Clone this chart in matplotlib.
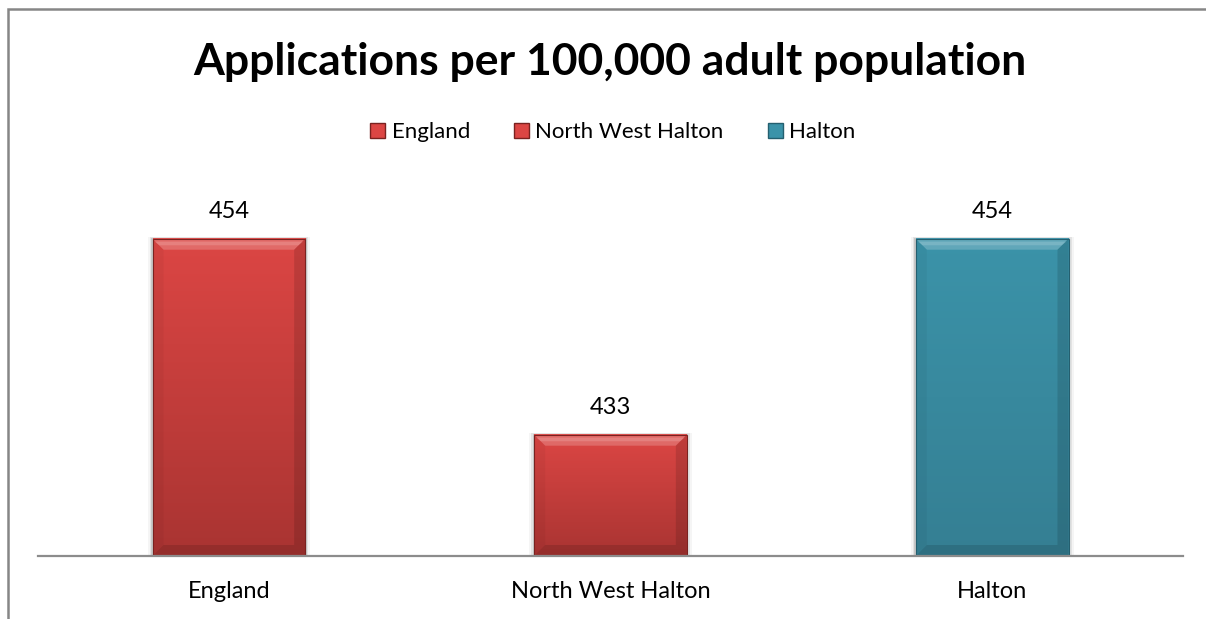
import numpy as np
import matplotlib
matplotlib.use("Agg")
import matplotlib.pyplot as plt
from matplotlib.patches import Patch, Polygon, Rectangle

plt.rcParams["font.family"] = ["Lato", "DejaVu Sans"]

# Datos
categories = ["England", "North West Halton", "Halton"]
values = [454, 433, 454]
colors_top = ["#dc4644", "#dc4644", "#3b93a9"]
colors_bottom = ["#a93432", "#a93432", "#357f93"]
edge_colors = ["#7a2220", "#7a2220", "#245f6f"]
title = "Applications per 100,000 adult population"

W, H = 1206, 619
fig = plt.figure(figsize=(W / 100, H / 100), dpi=100)
ax = fig.add_axes([38 / W, 63 / H, 1145 / W, 373.3 / H])
ax.set_xlim(-0.5, len(categories) - 0.5)
ax.set_ylim(420, 460)

x = np.arange(len(categories))
bars = ax.bar(x, values, width=0.4, color=colors_top, zorder=2)

# escala pixel -> datos para los biseles
px_x = (ax.get_xlim()[1] - ax.get_xlim()[0]) / 1145
px_y = (ax.get_ylim()[1] - ax.get_ylim()[0]) / 373.3
bev = 11

for bar, ctop, cbot, cedge in zip(bars, colors_top, colors_bottom, edge_colors):
    x0, y0 = bar.get_x(), 420
    x1, y1 = x0 + bar.get_width(), bar.get_height()
    bar.set_visible(False)
    # sombra suave alrededor
    for k, a in [(5, 0.04), (3, 0.07), (1.5, 0.12)]:
        ax.add_patch(Rectangle((x0 - k * px_x, y0), (x1 - x0) + 2 * k * px_x,
                               (y1 - y0) + k * px_y * 0.4,
                               facecolor="black", alpha=a, lw=0, zorder=1))
    # degradado vertical
    grad = np.linspace(0, 1, 256).reshape(-1, 1)
    c0 = np.array(matplotlib.colors.to_rgb(cbot))
    c1 = np.array(matplotlib.colors.to_rgb(ctop))
    img = (c0 + (c1 - c0) * grad).reshape(256, 1, 3)
    ax.imshow(img, extent=[x0, x1, y0, y1], origin="lower", aspect="auto",
              zorder=2, interpolation="bicubic")
    bx, by = bev * px_x, bev * px_y
    # bisel superior (claro)
    ax.add_patch(Polygon([(x0, y1), (x1, y1), (x1 - bx, y1 - by), (x0 + bx, y1 - by)],
                         facecolor="white", alpha=0.2, lw=0, zorder=3))
    ax.add_patch(Polygon([(x0 + 2 * px_x, y1 - 3 * px_y), (x1 - 2 * px_x, y1 - 3 * px_y),
                          (x1 - bx * 0.6, y1 - by * 0.6), (x0 + bx * 0.6, y1 - by * 0.6)],
                         facecolor="white", alpha=0.15, lw=0, zorder=3))
    # biseles laterales e inferior (oscuros)
    ax.add_patch(Polygon([(x1, y1), (x1, y0), (x1 - bx, y0 + by), (x1 - bx, y1 - by)],
                         facecolor="black", alpha=0.12, lw=0, zorder=3))
    ax.add_patch(Polygon([(x0, y1), (x0, y0), (x0 + bx, y0 + by), (x0 + bx, y1 - by)],
                         facecolor="black", alpha=0.04, lw=0, zorder=3))
    ax.add_patch(Polygon([(x0, y0), (x1, y0), (x1 - bx, y0 + by), (x0 + bx, y0 + by)],
                         facecolor="black", alpha=0.12, lw=0, zorder=3))
    ax.add_patch(Rectangle((x0, y0), x1 - x0, y1 - y0, facecolor="none",
                           edgecolor=cedge, lw=0.8, zorder=4))

for xi, v in zip(x, values):
    ax.annotate(f"{v}", (xi, v), xytext=(0, 19.5), textcoords="offset points",
                ha="center", va="center", fontsize=17, color="#000000")

for s in ["top", "right", "left"]:
    ax.spines[s].set_visible(False)
ax.spines["bottom"].set_color("#8c8c8c")
ax.spines["bottom"].set_linewidth(1.6)
ax.spines["bottom"].set_zorder(5)
ax.set_yticks([])
ax.set_xticks(x)
ax.set_xticklabels(categories, fontsize=17)
ax.tick_params(axis="x", length=0, pad=18)

fig.text(610 / W, 1 - 62 / H, title, ha="center", va="center",
         fontsize=32, fontweight="bold")

handles = [Patch(facecolor=c, edgecolor=e) for c, e in zip(colors_top, edge_colors)]
fig.legend(handles, categories, loc="center", bbox_to_anchor=(613 / W, 1 - 132 / H),
           ncol=3, frameon=False, fontsize=16, handlelength=0.65, handleheight=0.65,
           handletextpad=0.3, columnspacing=2.0)

# marco del gráfico
fig.patches.append(Rectangle((8 / W, -0.1), 1.2, 1 - 9 / H + 0.1,
                             transform=fig.transFigure, fill=False,
                             edgecolor="#868686", lw=1.8))

fig.savefig("out.png", dpi=100)
